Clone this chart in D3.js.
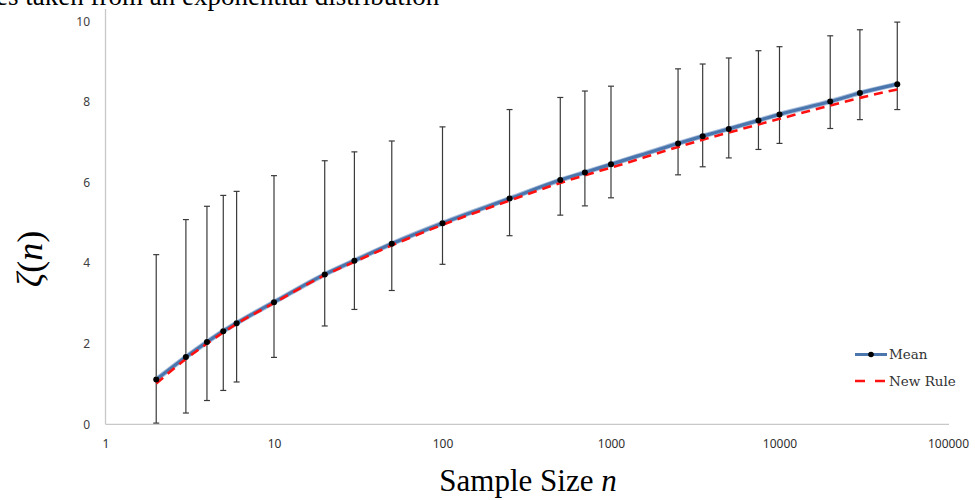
<!DOCTYPE html>
<html>
<head>
<meta charset="utf-8">
<script src="https://cdn.jsdelivr.net/npm/d3@7"></script>
<style>
  html, body { margin: 0; padding: 0; background: #fff; }
  svg { display: block; }
</style>
</head>
<body>
<svg id="chart" width="975" height="500"></svg>
<script>
// ---- data ----
const sampleSizes = [2, 3, 4, 5, 6, 10, 20, 30, 50, 100, 250, 500, 700, 1000, 2500, 3500, 5000, 7500, 10000, 20000, 30000, 50000];
const meanValues  = [1.11, 1.67, 2.04, 2.31, 2.51, 3.03, 3.72, 4.06, 4.48, 4.99, 5.60, 6.06, 6.25, 6.45, 6.97, 7.15, 7.33, 7.54, 7.69, 8.01, 8.22, 8.44];
const upperValues = [4.21, 5.08, 5.41, 5.68, 5.78, 6.17, 6.54, 6.76, 7.03, 7.38, 7.81, 8.11, 8.27, 8.39, 8.82, 8.94, 9.09, 9.27, 9.37, 9.64, 9.79, 9.98];
const lowerValues = [0.03, 0.28, 0.59, 0.84, 1.05, 1.66, 2.44, 2.85, 3.32, 3.97, 4.68, 5.19, 5.42, 5.62, 6.19, 6.39, 6.61, 6.82, 6.97, 7.34, 7.56, 7.81];
const newRuleValues = [1.01, 1.62, 2.00, 2.28, 2.49, 3.01, 3.70, 4.03, 4.44, 4.95, 5.55, 5.99, 6.18, 6.37, 6.88, 7.06, 7.24, 7.44, 7.58, 7.91, 8.10, 8.31];
const xTicks = [1, 10, 100, 1000, 10000, 100000];
const yTicks = [0, 2, 4, 6, 8, 10];
const seriesNames = ["Mean", "New Rule"];
const xTitle = "Sample Size ";
const xTitleVar = "n";
const headerText = "es taken from an exponential distribution";

// ---- layout ----
const svg = d3.select("#chart");
const x = d3.scaleLog().domain([1, 100000]).range([105.5, 948]);
const y = d3.scaleLinear().domain([0, 10]).range([424.3, 21.3]);

// cropped header text at the very top (the reference shows only its lower edge)
svg.append("text")
  .attr("x", -4).attr("y", 5)
  .attr("font-family", "Liberation Serif, serif")
  .attr("font-size", 27)
  .attr("fill", "#000")
  .text(headerText);

// axes lines
svg.append("line")
  .attr("x1", x(1)).attr("x2", x(1))
  .attr("y1", 9).attr("y2", y(0))
  .attr("stroke", "#c8c8c8").attr("stroke-width", 1.3);
svg.append("line")
  .attr("x1", x(1)).attr("x2", 949)
  .attr("y1", y(0)).attr("y2", y(0))
  .attr("stroke", "#c8c8c8").attr("stroke-width", 1.3);

// y tick labels
const yAxis = d3.axisLeft(y).tickValues(yTicks).tickSize(0).tickPadding(0).tickFormat(d3.format("d"));
const gy = svg.append("g").attr("transform", "translate(90,0)").call(yAxis);
gy.select(".domain").remove();
gy.selectAll("text")
  .attr("font-family", "Noto Sans, sans-serif")
  .attr("font-size", 12)
  .attr("fill", "#404040");

// x tick labels
const xAxis = d3.axisBottom(x).tickValues(xTicks).tickSize(0).tickPadding(0).tickFormat(d3.format("d"));
const gx = svg.append("g").attr("transform", "translate(0,439)").call(xAxis);
gx.select(".domain").remove();
gx.selectAll("text")
  .attr("font-family", "Noto Sans, sans-serif")
  .attr("font-size", 12)
  .attr("fill", "#303030");

// error bars
const bars = svg.append("g").attr("stroke", "#3a3a3a").attr("stroke-width", 1.2);
sampleSizes.forEach((n, i) => {
  const cx = x(n);
  bars.append("line").attr("x1", cx).attr("x2", cx).attr("y1", y(upperValues[i])).attr("y2", y(lowerValues[i]));
  bars.append("line").attr("x1", cx - 3).attr("x2", cx + 3).attr("y1", y(upperValues[i])).attr("y2", y(upperValues[i]));
  bars.append("line").attr("x1", cx - 3).attr("x2", cx + 3).attr("y1", y(lowerValues[i])).attr("y2", y(lowerValues[i]));
});

// mean line
const meanLine = d3.line().x((d, i) => x(sampleSizes[i])).y(d => y(d)).curve(d3.curveMonotoneX);
svg.append("path").datum(meanValues)
  .attr("d", meanLine).attr("fill", "none")
  .attr("stroke", "#a9bedb").attr("stroke-width", 5).attr("stroke-linejoin", "round");
svg.append("path").datum(meanValues)
  .attr("d", meanLine).attr("fill", "none")
  .attr("stroke", "#4a76ad").attr("stroke-width", 3.2).attr("stroke-linejoin", "round");

// new rule dashed line
svg.append("path").datum(newRuleValues)
  .attr("d", meanLine).attr("fill", "none")
  .attr("stroke", "#ff1010").attr("stroke-width", 2.6)
  .attr("stroke-dasharray", "9,6");

// mean points
svg.append("g").selectAll("circle").data(meanValues).join("circle")
  .attr("cx", (d, i) => x(sampleSizes[i])).attr("cy", d => y(d))
  .attr("r", 3).attr("fill", "#000");

// legend
const lg = svg.append("g");
lg.append("line").attr("x1", 855).attr("x2", 887).attr("y1", 354.5).attr("y2", 354.5)
  .attr("stroke", "#4a76ad").attr("stroke-width", 3);
lg.append("circle").attr("cx", 871).attr("cy", 354.5).attr("r", 2.8).attr("fill", "#000");
lg.append("line").attr("x1", 855).attr("x2", 887).attr("y1", 381).attr("y2", 381)
  .attr("stroke", "#ff1010").attr("stroke-width", 2.6).attr("stroke-dasharray", "10,10");
lg.selectAll("text.lab").data(seriesNames).join("text")
  .attr("class", "lab")
  .attr("x", 889).attr("y", (d, i) => 359 + i * 26.5)
  .attr("font-family", "DejaVu Serif, serif")
  .attr("font-size", 13.5)
  .attr("fill", "#333")
  .text(d => d);

// x axis title
const xt = svg.append("text")
  .attr("x", 528).attr("y", 491)
  .attr("text-anchor", "middle")
  .attr("font-family", "Liberation Serif, serif")
  .attr("font-size", 31)
  .attr("fill", "#000");
xt.append("tspan").text(xTitle);
xt.append("tspan").attr("font-style", "italic").text(xTitleVar);

// y axis title
const yt = svg.append("text")
  .attr("transform", "translate(42,259) rotate(-90)")
  .attr("text-anchor", "middle")
  .attr("font-family", "Liberation Serif, serif")
  .attr("font-size", 36)
  .attr("fill", "#000");
yt.append("tspan").attr("font-style", "italic").text("ζ");
yt.append("tspan").text("(");
yt.append("tspan").attr("font-style", "italic").text("n");
yt.append("tspan").text(")");
</script>
</body>
</html>
